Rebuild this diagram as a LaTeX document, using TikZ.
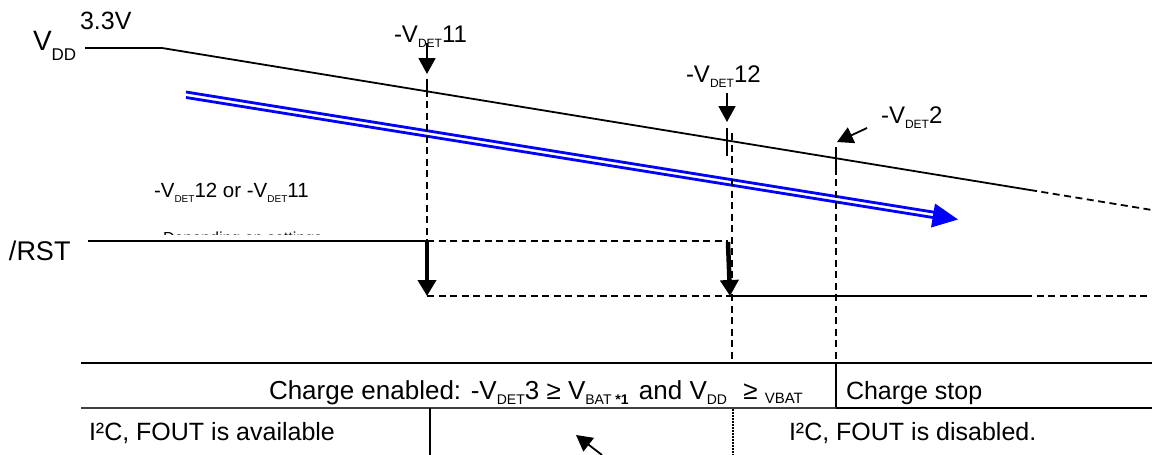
\documentclass[tikz,border=0pt]{standalone}
\usepackage{fontspec}
\setmainfont{Liberation Sans}
\usetikzlibrary{arrows.meta}
\newcommand\dn[3]{\raisebox{#1}{\fontsize{#2}{#2}\selectfont #3}}
\begin{document}
\begin{tikzpicture}[x=1pt,y=-1pt,
  every node/.style={inner sep=0pt, outer sep=0pt, anchor=base west},
  lbl/.style={font=\fontsize{24}{28}\selectfont},
  tbl/.style={font=\fontsize{25}{30}\selectfont},
  small/.style={font=\fontsize{20.5}{24}\selectfont},
  wire/.style={line width=1.8pt},
  dsh/.style={line width=1.8pt, dash pattern=on 7pt off 4.5pt},
  dotl/.style={line width=1.8pt, dash pattern=on 1.5pt off 1.5pt},
  rule/.style={line width=2.4pt},
  bluel/.style={line width=2.8pt, draw=blue},
  pin/.style={line width=1.8pt, -{Triangle[length=16pt,width=17pt]}},
  fall/.style={line width=4.5pt, -{Triangle[length=16pt,width=18pt]}},
]
\useasboundingbox (0,0) rectangle (1152,455);

% VDD waveform
\coordinate (vdd0) at (85,48);
\coordinate (vdd1) at (162,48);
\coordinate (vdd2) at (1030,190);
\coordinate (vdd3) at (1152,210);
\draw[wire] (vdd0) -- (vdd1) -- (vdd2);
\draw[dsh] (vdd2) -- (vdd3);

\node[font=\fontsize{28}{30}\selectfont] (vddl) at (33,50) {V\dn{-10pt}{17}{DD}};
\node[font=\fontsize{25}{28}\selectfont] (v33) at (80,29) {3.3V};

% blue arrow
\coordinate (b1s) at (186,92);
\coordinate (b1e) at (936,212.5);
\coordinate (b2s) at (186,97.5);
\coordinate (b2e) at (936,218);
\draw[bluel] (b1s) -- (b1e);
\draw[bluel] (b2s) -- (b2e);
\coordinate (bh1) at (935,203.5);
\coordinate (bh2) at (958,219.5);
\coordinate (bh3) at (931,227.5);
\fill[blue] (bh1) -- (bh2) -- (bh3) -- cycle;

% -VDET11 marker
\node[lbl] (d11) at (394,42) {-V\dn{-5pt}{12}{DET}11};
\coordinate (p11a) at (427,43);
\coordinate (p11b) at (427,74);
\draw[pin] (p11a) -- (p11b);
\coordinate (t11a) at (427,79);
\coordinate (t11b) at (427,97);
\coordinate (t11c) at (427,101);
\coordinate (r1h) at (427,241);
\coordinate (r1l) at (427,296);
\draw[wire] (t11a) -- (t11b);
\draw[dsh] (t11c) -- (r1h);

% -VDET12 marker
\node[lbl] (d12) at (686,82) {-V\dn{-5pt}{12}{DET}12};
\coordinate (p12a) at (727,93);
\coordinate (p12b) at (727,122);
\draw[pin] (p12a) -- (p12b);
\coordinate (t12a) at (727,128);
\coordinate (t12b) at (727,156);
\draw[wire] (t12a) -- (t12b);
\coordinate (t12c) at (732,133);
\coordinate (t12d) at (732,363);
\draw[dsh] (t12c) -- (t12d);
\coordinate (t12e) at (733,409);
\coordinate (t12f) at (733,455);
\draw[dotl] (t12e) -- (t12f);

% -VDET2 marker
\node[lbl] (d2) at (881,123) {-V\dn{-5pt}{12}{DET}2};
\coordinate (p2a) at (867,128);
\coordinate (p2b) at (837,142);
\draw[pin] (p2a) -- (p2b);
\coordinate (t2a) at (836,147);
\coordinate (t2b) at (836,175);
\coordinate (t2c) at (836,179);
\coordinate (t2d) at (836,363);
\coordinate (t2e) at (836,408);
\draw[wire] (t2a) -- (t2b);
\draw[dsh] (t2c) -- (t2d);
\draw[rule] (t2d) -- (t2e);

% /RST waveform
\node[font=\fontsize{27}{30}\selectfont] (rst) at (9,260) {/RST};
\coordinate (r0) at (88,241);
\coordinate (r2h) at (728,241);
\coordinate (r2l) at (731,296);
\coordinate (r3) at (1025,296);
\coordinate (r4) at (1152,296);
\draw[wire] (r0) -- (r1h);
\draw[dsh] (r1h) -- (r2h);
\draw[dsh] (r1l) -- (r2l);
\draw[wire] (r2l) -- (r3);
\draw[dsh] (r3) -- (r4);
\draw[fall] (r1h) -- (r1l);
\coordinate (f2a) at (728,242);
\coordinate (f2b) at (730,296);
\draw[fall] (f2a) -- (f2b);

\node[small] (orl) at (154,197) {-V\dn{-5pt}{10}{DET}12 or -V\dn{-5pt}{10}{DET}11};
\begin{scope}
  \clip (150,220) rectangle (420,234.6);
  \node[font=\fontsize{16}{18}\selectfont] (reg) at (163,243.5) {Depending on settings};
\end{scope}

% table
\coordinate (ta) at (81,363);
\coordinate (tb) at (1152,363);
\coordinate (tc) at (81,408);
\coordinate (td) at (1152,408);
\draw[rule] (ta) -- (tb);
\draw[line width=1.8pt, black!75] (tc) -- (t2e);
\draw[rule] (t2e) -- (td);
\coordinate (te) at (430,408);
\coordinate (tf) at (430,455);
\draw[rule] (te) -- (tf);

\node[font=\fontsize{26}{30}\selectfont] (ce) at (269,399) {Charge enabled: -V\dn{-5pt}{14}{DET}3 ≥ V\dn{-5pt}{14}{BAT \textbf{*1}}\hspace{3pt} and V\dn{-5pt}{14}{DD}\hspace{9pt} ≥ \dn{-4pt}{15}{VBAT}};
\node[tbl] (cs) at (846,399) {Charge stop};
\node[tbl] (av) at (89,440) {I²C, FOUT is available};
\node[tbl] (ds) at (789,440) {I²C, FOUT is disabled.};

\coordinate (ba) at (602,455);
\coordinate (bb) at (576,435);
\draw[pin] (ba) -- (bb);
\end{tikzpicture}
\end{document}
